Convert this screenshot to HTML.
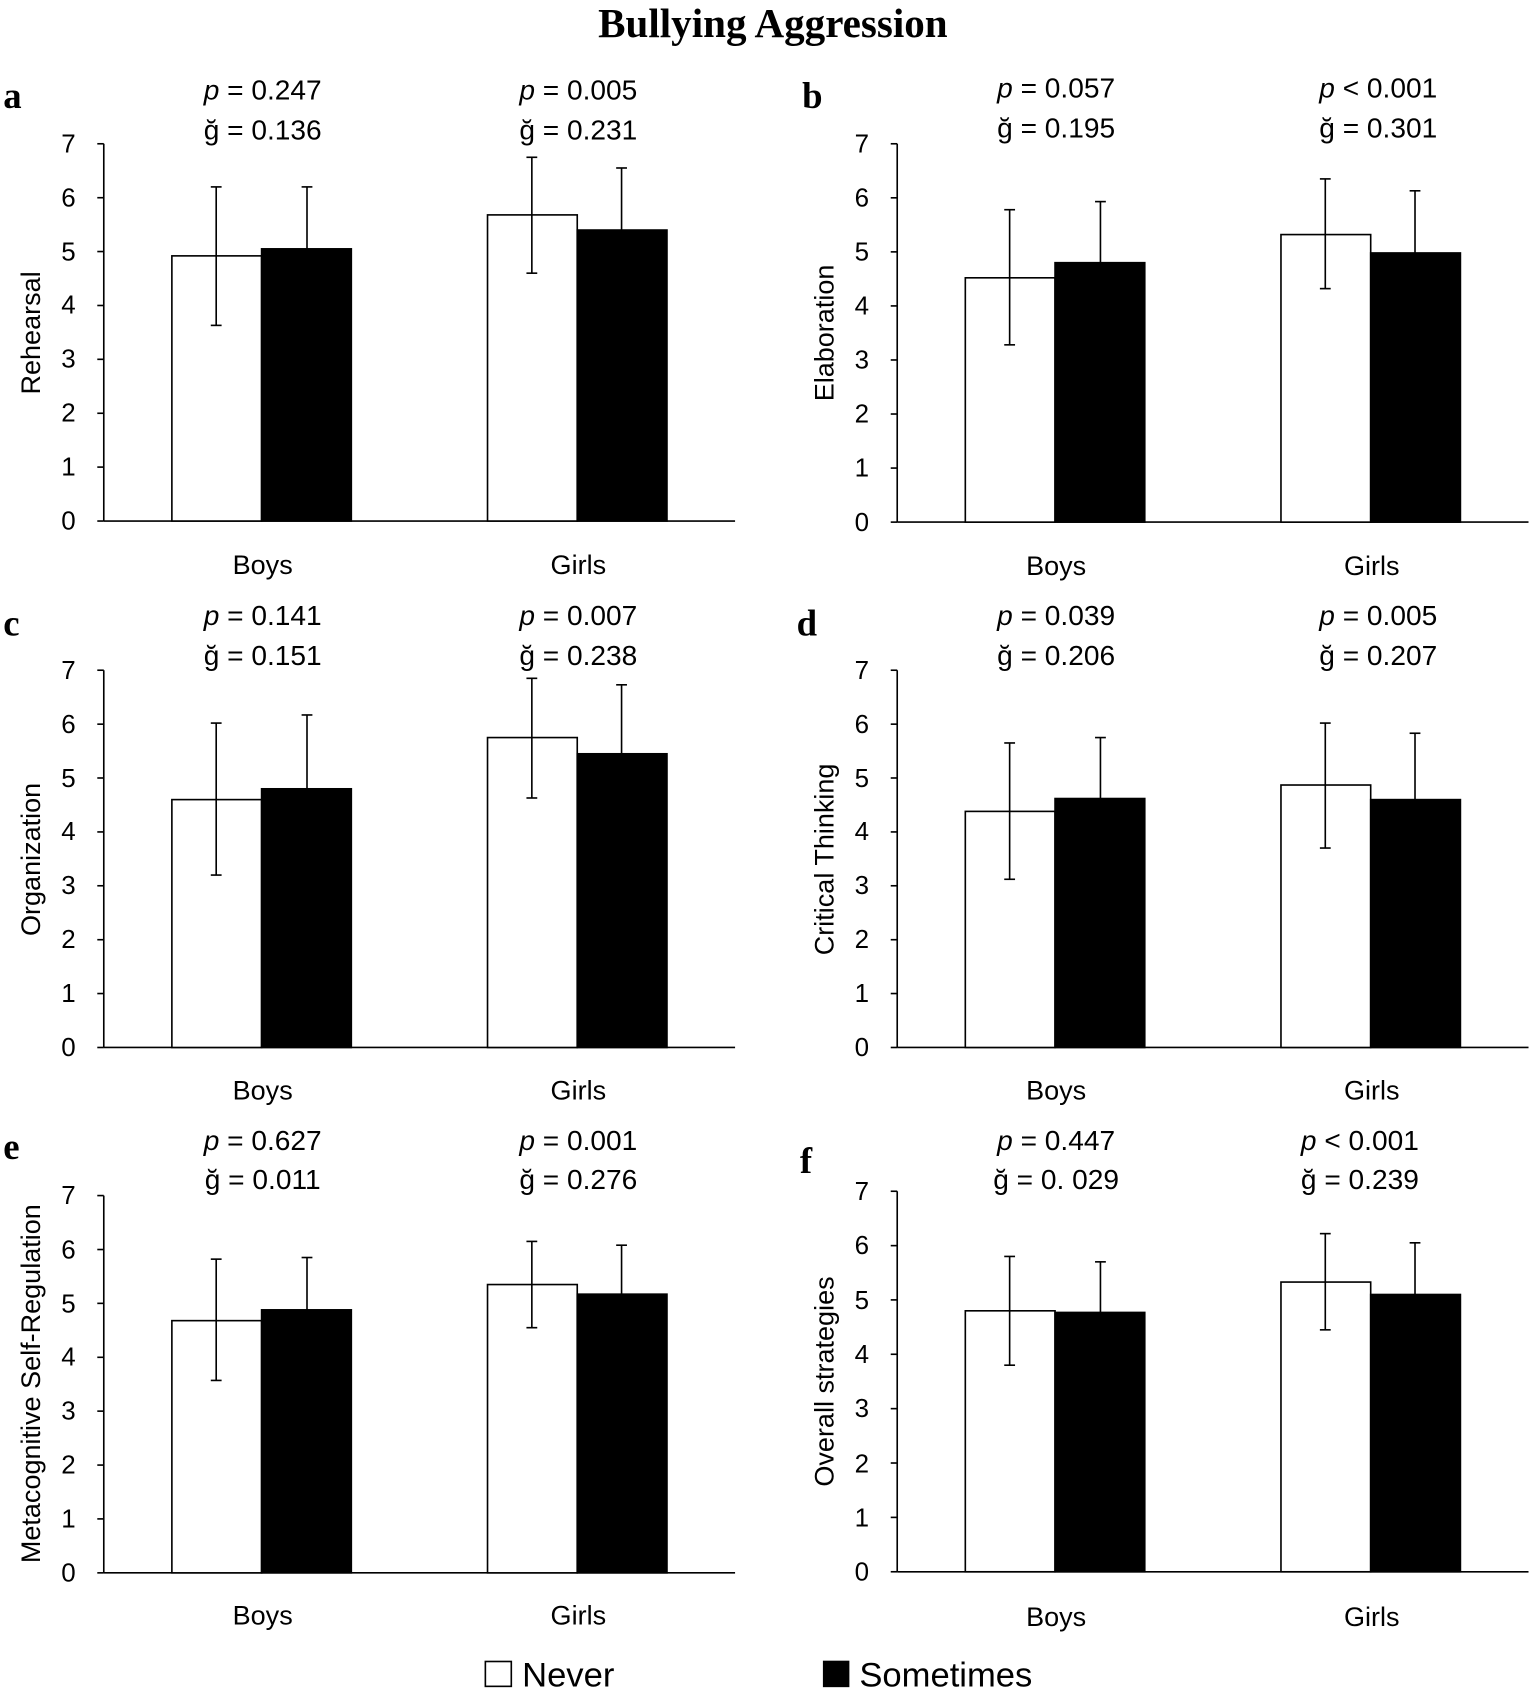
<!DOCTYPE html>
<html><head><meta charset="utf-8"><style>
html,body{margin:0;padding:0;background:#fff}
svg{display:block}
text{font-family:"Liberation Sans",sans-serif;fill:#000}
.t{font-size:24px;text-anchor:end}
.c{font-size:25px;text-anchor:middle}
.p{font-size:26px;text-anchor:middle}
.l{font-family:"Liberation Serif",serif;font-size:34px;font-weight:bold}
.yl{font-size:25px;text-anchor:middle}
line,rect{stroke:#000;stroke-width:1.5}
.w{fill:#fff}.b{fill:#000}
</style></head><body>
<svg width="1535" height="1695" viewBox="0 0 1420 1568" preserveAspectRatio="none" xmlns="http://www.w3.org/2000/svg">
<text x="715" y="34" text-anchor="middle" style="font-family:'Liberation Serif',serif;font-size:38px;font-weight:bold">Bullying Aggression</text>

<!-- Panel a -->
<text class="l" x="3" y="100">a</text>
<text class="p" x="243" y="92"><tspan font-style="italic">p</tspan> = 0.247</text>
<text class="p" x="243" y="129">ğ = 0.136</text>
<text class="p" x="535" y="92"><tspan font-style="italic">p</tspan> = 0.005</text>
<text class="p" x="535" y="129">ğ = 0.231</text>
<text class="yl" transform="translate(37,308) rotate(-90)">Rehearsal</text>
<line x1="96" y1="133" x2="96" y2="482"/><line x1="96" y1="482" x2="680" y2="482"/>
<g><line x1="90" y1="482" x2="96" y2="482"/><line x1="90" y1="432.1" x2="96" y2="432.1"/><line x1="90" y1="382.3" x2="96" y2="382.3"/><line x1="90" y1="332.4" x2="96" y2="332.4"/><line x1="90" y1="282.6" x2="96" y2="282.6"/><line x1="90" y1="232.7" x2="96" y2="232.7"/><line x1="90" y1="182.9" x2="96" y2="182.9"/><line x1="90" y1="133" x2="96" y2="133"/></g>
<text class="t" x="70" y="490">0</text><text class="t" x="70" y="440">1</text><text class="t" x="70" y="390">2</text><text class="t" x="70" y="340">3</text><text class="t" x="70" y="290">4</text><text class="t" x="70" y="241">5</text><text class="t" x="70" y="191">6</text><text class="t" x="70" y="141">7</text>
<rect class="w" x="159" y="236.7" width="83" height="245.3"/><rect class="b" x="242" y="230.2" width="83" height="251.8"/>
<rect class="w" x="451" y="198.8" width="83" height="283.2"/><rect class="b" x="534" y="212.8" width="83" height="269.2"/>
<line x1="200" y1="172.9" x2="200" y2="301"/><line x1="195" y1="172.9" x2="205" y2="172.9"/><line x1="195" y1="301" x2="205" y2="301"/>
<line x1="284" y1="172.9" x2="284" y2="230.2"/><line x1="279" y1="172.9" x2="289" y2="172.9"/>
<line x1="492" y1="145.5" x2="492" y2="252.7"/><line x1="487" y1="145.5" x2="497" y2="145.5"/><line x1="487" y1="252.7" x2="497" y2="252.7"/>
<line x1="575" y1="155.4" x2="575" y2="212.8"/><line x1="570" y1="155.4" x2="580" y2="155.4"/>
<text class="c" x="243" y="531">Boys</text><text class="c" x="535" y="531">Girls</text>

<!-- Panel b -->
<text class="l" x="742" y="100">b</text>
<text class="p" x="977" y="90"><tspan font-style="italic">p</tspan> = 0.057</text>
<text class="p" x="977" y="127">ğ = 0.195</text>
<text class="p" x="1275" y="90"><tspan font-style="italic">p</tspan> &lt; 0.001</text>
<text class="p" x="1275" y="127">ğ = 0.301</text>
<text class="yl" transform="translate(771,308) rotate(-90)">Elaboration</text>
<line x1="830" y1="133" x2="830" y2="483"/><line x1="830" y1="483" x2="1414" y2="483"/>
<g><line x1="824" y1="483" x2="830" y2="483"/><line x1="824" y1="433" x2="830" y2="433"/><line x1="824" y1="383" x2="830" y2="383"/><line x1="824" y1="333" x2="830" y2="333"/><line x1="824" y1="283" x2="830" y2="283"/><line x1="824" y1="233" x2="830" y2="233"/><line x1="824" y1="183" x2="830" y2="183"/><line x1="824" y1="133" x2="830" y2="133"/></g>
<text class="t" x="804" y="491">0</text><text class="t" x="804" y="441">1</text><text class="t" x="804" y="391">2</text><text class="t" x="804" y="341">3</text><text class="t" x="804" y="291">4</text><text class="t" x="804" y="241">5</text><text class="t" x="804" y="191">6</text><text class="t" x="804" y="141">7</text>
<rect class="w" x="893" y="257" width="83" height="226"/><rect class="b" x="976" y="243" width="83" height="240"/>
<rect class="w" x="1185" y="217" width="83" height="266"/><rect class="b" x="1268" y="234" width="83" height="249"/>
<line x1="934" y1="194" x2="934" y2="319"/><line x1="929" y1="194" x2="939" y2="194"/><line x1="929" y1="319" x2="939" y2="319"/>
<line x1="1018" y1="186.5" x2="1018" y2="243"/><line x1="1013" y1="186.5" x2="1023" y2="186.5"/>
<line x1="1226" y1="165.5" x2="1226" y2="267"/><line x1="1221" y1="165.5" x2="1231" y2="165.5"/><line x1="1221" y1="267" x2="1231" y2="267"/>
<line x1="1309" y1="176.5" x2="1309" y2="234"/><line x1="1304" y1="176.5" x2="1314" y2="176.5"/>
<text class="c" x="977" y="532">Boys</text><text class="c" x="1269" y="532">Girls</text>

<!-- Panel c -->
<text class="l" x="3" y="588">c</text>
<text class="p" x="243" y="578"><tspan font-style="italic">p</tspan> = 0.141</text>
<text class="p" x="243" y="615">ğ = 0.151</text>
<text class="p" x="535" y="578"><tspan font-style="italic">p</tspan> = 0.007</text>
<text class="p" x="535" y="615">ğ = 0.238</text>
<text class="yl" transform="translate(37,795) rotate(-90)">Organization</text>
<line x1="96" y1="620" x2="96" y2="969"/><line x1="96" y1="969" x2="680" y2="969"/>
<g><line x1="90" y1="969" x2="96" y2="969"/><line x1="90" y1="919.1" x2="96" y2="919.1"/><line x1="90" y1="869.3" x2="96" y2="869.3"/><line x1="90" y1="819.4" x2="96" y2="819.4"/><line x1="90" y1="769.6" x2="96" y2="769.6"/><line x1="90" y1="719.7" x2="96" y2="719.7"/><line x1="90" y1="669.9" x2="96" y2="669.9"/><line x1="90" y1="620" x2="96" y2="620"/></g>
<text class="t" x="70" y="977">0</text><text class="t" x="70" y="927">1</text><text class="t" x="70" y="877">2</text><text class="t" x="70" y="827">3</text><text class="t" x="70" y="777">4</text><text class="t" x="70" y="728">5</text><text class="t" x="70" y="678">6</text><text class="t" x="70" y="628">7</text>
<rect class="w" x="159" y="739.7" width="83" height="229.3"/><rect class="b" x="242" y="729.7" width="83" height="239.3"/>
<rect class="w" x="451" y="682.3" width="83" height="286.7"/><rect class="b" x="534" y="697.3" width="83" height="271.7"/>
<line x1="200" y1="668.9" x2="200" y2="809.5"/><line x1="195" y1="668.9" x2="205" y2="668.9"/><line x1="195" y1="809.5" x2="205" y2="809.5"/>
<line x1="284" y1="661.4" x2="284" y2="729.7"/><line x1="279" y1="661.4" x2="289" y2="661.4"/>
<line x1="492" y1="627.5" x2="492" y2="738.2"/><line x1="487" y1="627.5" x2="497" y2="627.5"/><line x1="487" y1="738.2" x2="497" y2="738.2"/>
<line x1="575" y1="633.5" x2="575" y2="697.3"/><line x1="570" y1="633.5" x2="580" y2="633.5"/>
<text class="c" x="243" y="1017">Boys</text><text class="c" x="535" y="1017">Girls</text>

<!-- Panel d -->
<text class="l" x="737" y="588">d</text>
<text class="p" x="977" y="578"><tspan font-style="italic">p</tspan> = 0.039</text>
<text class="p" x="977" y="615">ğ = 0.206</text>
<text class="p" x="1275" y="578"><tspan font-style="italic">p</tspan> = 0.005</text>
<text class="p" x="1275" y="615">ğ = 0.207</text>
<text class="yl" transform="translate(771,795) rotate(-90)">Critical Thinking</text>
<line x1="830" y1="620" x2="830" y2="969"/><line x1="830" y1="969" x2="1414" y2="969"/>
<g><line x1="824" y1="969" x2="830" y2="969"/><line x1="824" y1="919.1" x2="830" y2="919.1"/><line x1="824" y1="869.3" x2="830" y2="869.3"/><line x1="824" y1="819.4" x2="830" y2="819.4"/><line x1="824" y1="769.6" x2="830" y2="769.6"/><line x1="824" y1="719.7" x2="830" y2="719.7"/><line x1="824" y1="669.9" x2="830" y2="669.9"/><line x1="824" y1="620" x2="830" y2="620"/></g>
<text class="t" x="804" y="977">0</text><text class="t" x="804" y="927">1</text><text class="t" x="804" y="877">2</text><text class="t" x="804" y="827">3</text><text class="t" x="804" y="777">4</text><text class="t" x="804" y="728">5</text><text class="t" x="804" y="678">6</text><text class="t" x="804" y="628">7</text>
<rect class="w" x="893" y="750.6" width="83" height="218.4"/><rect class="b" x="976" y="738.7" width="83" height="230.3"/>
<rect class="w" x="1185" y="726.2" width="83" height="242.8"/><rect class="b" x="1268" y="739.7" width="83" height="229.3"/>
<line x1="934" y1="687.3" x2="934" y2="813.4"/><line x1="929" y1="687.3" x2="939" y2="687.3"/><line x1="929" y1="813.4" x2="939" y2="813.4"/>
<line x1="1018" y1="682.3" x2="1018" y2="738.7"/><line x1="1013" y1="682.3" x2="1023" y2="682.3"/>
<line x1="1226" y1="668.9" x2="1226" y2="784.5"/><line x1="1221" y1="668.9" x2="1231" y2="668.9"/><line x1="1221" y1="784.5" x2="1231" y2="784.5"/>
<line x1="1309" y1="678.3" x2="1309" y2="739.7"/><line x1="1304" y1="678.3" x2="1314" y2="678.3"/>
<text class="c" x="977" y="1017">Boys</text><text class="c" x="1269" y="1017">Girls</text>

<!-- Panel e -->
<text class="l" x="3" y="1072">e</text>
<text class="p" x="243" y="1064"><tspan font-style="italic">p</tspan> = 0.627</text>
<text class="p" x="243" y="1100">ğ = 0.011</text>
<text class="p" x="535" y="1064"><tspan font-style="italic">p</tspan> = 0.001</text>
<text class="p" x="535" y="1100">ğ = 0.276</text>
<text class="yl" transform="translate(37,1280) rotate(-90)">Metacognitive Self-Regulation</text>
<line x1="96" y1="1106" x2="96" y2="1455"/><line x1="96" y1="1455" x2="680" y2="1455"/>
<g><line x1="90" y1="1455" x2="96" y2="1455"/><line x1="90" y1="1405.1" x2="96" y2="1405.1"/><line x1="90" y1="1355.3" x2="96" y2="1355.3"/><line x1="90" y1="1305.4" x2="96" y2="1305.4"/><line x1="90" y1="1255.6" x2="96" y2="1255.6"/><line x1="90" y1="1205.7" x2="96" y2="1205.7"/><line x1="90" y1="1155.9" x2="96" y2="1155.9"/><line x1="90" y1="1106" x2="96" y2="1106"/></g>
<text class="t" x="70" y="1463">0</text><text class="t" x="70" y="1413">1</text><text class="t" x="70" y="1363">2</text><text class="t" x="70" y="1313">3</text><text class="t" x="70" y="1263">4</text><text class="t" x="70" y="1214">5</text><text class="t" x="70" y="1164">6</text><text class="t" x="70" y="1114">7</text>
<rect class="w" x="159" y="1221.7" width="83" height="233.3"/><rect class="b" x="242" y="1211.7" width="83" height="243.3"/>
<rect class="w" x="451" y="1188.3" width="83" height="266.7"/><rect class="b" x="534" y="1197.2" width="83" height="257.8"/>
<line x1="200" y1="1164.8" x2="200" y2="1277"/><line x1="195" y1="1164.8" x2="205" y2="1164.8"/><line x1="195" y1="1277" x2="205" y2="1277"/>
<line x1="284" y1="1163.3" x2="284" y2="1211.7"/><line x1="279" y1="1163.3" x2="289" y2="1163.3"/>
<line x1="492" y1="1148.4" x2="492" y2="1228.2"/><line x1="487" y1="1148.4" x2="497" y2="1148.4"/><line x1="487" y1="1228.2" x2="497" y2="1228.2"/>
<line x1="575" y1="1151.9" x2="575" y2="1197.2"/><line x1="570" y1="1151.9" x2="580" y2="1151.9"/>
<text class="c" x="243" y="1503">Boys</text><text class="c" x="535" y="1503">Girls</text>

<!-- Panel f -->
<text class="l" x="740" y="1085">f</text>
<text class="p" x="977" y="1064"><tspan font-style="italic">p</tspan> = 0.447</text>
<text class="p" x="977" y="1100">ğ = 0. 029</text>
<text class="p" x="1258" y="1064"><tspan font-style="italic">p</tspan> &lt; 0.001</text>
<text class="p" x="1258" y="1100">ğ = 0.239</text>
<text class="yl" transform="translate(771,1278) rotate(-90)">Overall strategies</text>
<line x1="830" y1="1102" x2="830" y2="1454"/><line x1="830" y1="1454" x2="1414" y2="1454"/>
<g><line x1="824" y1="1454" x2="830" y2="1454"/><line x1="824" y1="1403.7" x2="830" y2="1403.7"/><line x1="824" y1="1353.4" x2="830" y2="1353.4"/><line x1="824" y1="1303.1" x2="830" y2="1303.1"/><line x1="824" y1="1252.8" x2="830" y2="1252.8"/><line x1="824" y1="1202.5" x2="830" y2="1202.5"/><line x1="824" y1="1152.3" x2="830" y2="1152.3"/><line x1="824" y1="1102" x2="830" y2="1102"/></g>
<text class="t" x="804" y="1462">0</text><text class="t" x="804" y="1412">1</text><text class="t" x="804" y="1362">2</text><text class="t" x="804" y="1311">3</text><text class="t" x="804" y="1261">4</text><text class="t" x="804" y="1211">5</text><text class="t" x="804" y="1160">6</text><text class="t" x="804" y="1110">7</text>
<rect class="w" x="893" y="1212.6" width="83" height="241.4"/><rect class="b" x="976" y="1214.1" width="83" height="239.9"/>
<rect class="w" x="1185" y="1186" width="83" height="268"/><rect class="b" x="1268" y="1197.5" width="83" height="256.5"/>
<line x1="934" y1="1162.3" x2="934" y2="1262.9"/><line x1="929" y1="1162.3" x2="939" y2="1162.3"/><line x1="929" y1="1262.9" x2="939" y2="1262.9"/>
<line x1="1018" y1="1167.3" x2="1018" y2="1214.1"/><line x1="1013" y1="1167.3" x2="1023" y2="1167.3"/>
<line x1="1226" y1="1141.2" x2="1226" y2="1230.2"/><line x1="1221" y1="1141.2" x2="1231" y2="1141.2"/><line x1="1221" y1="1230.2" x2="1231" y2="1230.2"/>
<line x1="1309" y1="1149.7" x2="1309" y2="1197.5"/><line x1="1304" y1="1149.7" x2="1314" y2="1149.7"/>
<text class="c" x="977" y="1504">Boys</text><text class="c" x="1269" y="1504">Girls</text>

<!-- Legend -->
<rect class="w" x="449" y="1537" width="24" height="23" stroke-width="2"/>
<text x="483" y="1560" style="font-size:32px">Never</text>
<rect class="b" x="762" y="1537" width="23" height="23"/>
<text x="795" y="1560" style="font-size:32px">Sometimes</text>
</svg>
</body></html>
